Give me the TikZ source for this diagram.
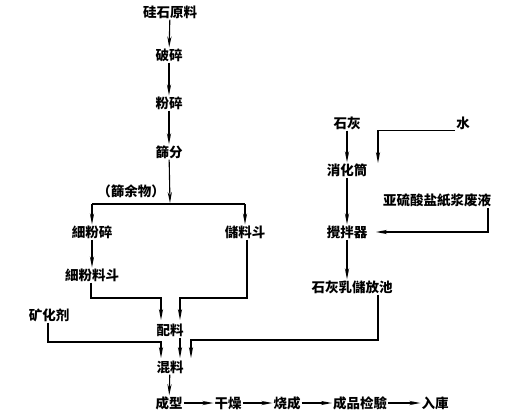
\documentclass[tikz,border=0pt]{standalone}
\usepackage{fontspec}
\setmainfont{Noto Sans CJK SC}
\usetikzlibrary{arrows.meta}
\begin{document}
\begin{tikzpicture}[x=1pt,y=-1pt,
  lbl/.style={inner sep=1pt,font=\fontsize{13.5}{14}\selectfont\bfseries},
  arr/.style={-{Stealth[length=11pt,width=4.2pt]},line width=1.1pt},
  ln/.style={line width=1.1pt}]
\useasboundingbox (0,0) rectangle (506,420);
% left column
\node[lbl] (raw) at (170,12) {硅石原料};
\node[lbl] (crush) at (169,55) {破碎};
\node[lbl] (grind) at (169,103) {粉碎};
\node[lbl] (sieve) at (169,152) {篩分};
\node[lbl] (resid) at (131,191) {（篩余物）};
\node[lbl] (fine) at (92,232) {細粉碎};
\node[lbl] (store) at (245,232) {儲料斗};
\node[lbl] (finehop) at (92,275) {細粉料斗};
\node[lbl] (miner) at (49,315) {矿化剂};
\node[lbl] (batch) at (170,330) {配料};
\node[lbl] (mix) at (170,367) {混料};
\node[lbl] (form) at (169,403) {成型};
\node[lbl] (dry) at (228,403) {干燥};
\node[lbl] (fire) at (287,403) {烧成};
\node[lbl] (check) at (360,403) {成品检驗};
\node[lbl] (store2) at (435,403) {入庫};
% right column
\node[lbl] (lime) at (347,123) {石灰};
\node[lbl] (water) at (463,123) {水};
\node[lbl] (slaker) at (347,170) {消化筒};
\node[lbl] (waste) at (437,200) {亚硫酸盐紙浆废液};
\node[lbl] (stirrer) at (347,232) {攪拌器};
\node[lbl] (pool) at (352,287) {石灰乳儲放池};
% coordinates
\coordinate (split) at (170,203);
\coordinate (splitL) at (92,204);
\coordinate (splitR) at (245,204);
\coordinate (bA) at (161,320);
\coordinate (bB) at (180,320);
\coordinate (mA) at (161,358);
\coordinate (mB) at (180,358);
\coordinate (mC) at (191,358);
\coordinate (wdrop) at (378,163);
\coordinate (stirin) at (376,232);
% main chain
\draw[arr] (raw) -- (crush);
\draw[arr] (crush) -- (grind);
\draw[arr] (grind) -- (sieve);
\draw[arr] (sieve) -- (split);
\draw[ln] (splitL) -- (splitR);
\draw[arr] (splitL) -- (fine);
\draw[arr] (splitR) -- (store);
\draw[arr] (fine) -- (finehop);
\draw[arr] (finehop.south -| 91,0) |- (161,298) -- (bA);
\draw[arr] (store.south -| 247,0) |- (180,298) -- (bB);
\draw[arr] (miner.south -| 48,0) |- (161,342) -- (mA);
\draw[arr] (batch.south -| mB) -- (mB);
\draw[arr] (pool.south -| 378,0) |- (191,340) -- (mC);
\draw[arr] (mix) -- (form);
\draw[arr] (form) -- (dry);
\draw[arr] (dry) -- (fire);
\draw[arr] (fire) -- (check);
\draw[arr] (check) -- (store2);
% right chain
\draw[arr] (lime) -- (slaker);
\draw[arr] (water.south west) -| (wdrop);
\draw[arr] (slaker) -- (stirrer);
\draw[arr] (waste.south -| 488,0) |- (stirin);
\draw[arr] (stirrer) -- (stirrer |- pool.north);
\end{tikzpicture}
\end{document}
